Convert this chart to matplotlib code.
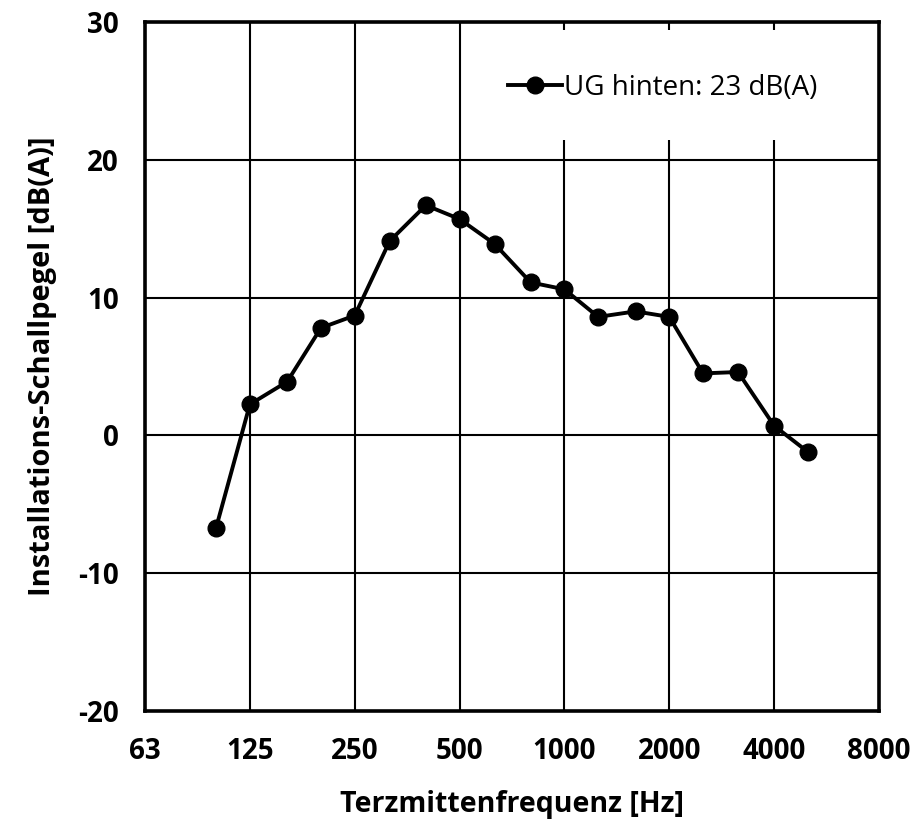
import matplotlib
matplotlib.use("Agg")
import matplotlib.pyplot as plt
from matplotlib.patches import Rectangle

plt.rcParams["font.family"] = ["Open Sans", "DejaVu Sans"]
plt.rcParams["axes.unicode_minus"] = False

# Terzband-Mittenfrequenzen [Hz] und Pegel [dB(A)]
freqs = [100, 125, 160, 200, 250, 315, 400, 500, 630, 800,
         1000, 1250, 1600, 2000, 2500, 3150, 4000, 5000]
levels = [-6.7, 2.25, 3.9, 7.8, 8.7, 14.1, 16.7, 15.7, 13.9, 11.1,
          10.6, 8.6, 9.0, 8.6, 4.5, 4.6, 0.7, -1.2]
series_label = "UG hinten: 23 dB(A)"

x_ticks = [62.5, 125, 250, 500, 1000, 2000, 4000, 8000]
x_ticklabels = ["63", "125", "250", "500", "1000", "2000", "4000", "8000"]
y_ticks = [-20, -10, 0, 10, 20, 30]

fig = plt.figure(figsize=(9.14, 8.27), dpi=100)
ax = fig.add_axes([145 / 914, 1 - 711 / 827, 734 / 914, 689 / 827])

ax.plot(freqs, levels, color="black", linewidth=2.8, marker="o",
        markersize=12, label=series_label, zorder=3)

ax.set_xscale("log", base=2)
ax.set_xlim(62.5, 8000)
ax.set_ylim(-20, 30)
ax.set_xticks(x_ticks)
ax.set_xticklabels(x_ticklabels)
ax.minorticks_off()
ax.set_yticks(y_ticks)

ax.grid(True, color="black", linewidth=1.5)
ax.set_axisbelow(True)
for sp in ax.spines.values():
    sp.set_linewidth(2.6)

ax.tick_params(length=0, labelsize=20)
for lbl in ax.get_xticklabels() + ax.get_yticklabels():
    lbl.set_fontweight("bold")
ax.tick_params(axis="y", pad=19)
ax.tick_params(axis="x", pad=19)

ax.set_xlabel("Terzmittenfrequenz [Hz]", fontsize=20.5, fontweight="bold", labelpad=17)
ax.set_ylabel("Installations-Schallpegel [dB(A)]", fontsize=21, fontweight="bold", labelpad=15)

# white box behind the legend hides the grid
ax.add_patch(Rectangle((0.443, 0.829), 0.545, 0.159, transform=ax.transAxes,
                       facecolor="white", edgecolor="none", zorder=1.8))
ax.legend(loc="center left", bbox_to_anchor=(0.4946, 0.904), frameon=False,
          fontsize=20, handlelength=1.95, handletextpad=0.05,
          borderpad=0, borderaxespad=0)

fig.savefig("out.png", dpi=100)
